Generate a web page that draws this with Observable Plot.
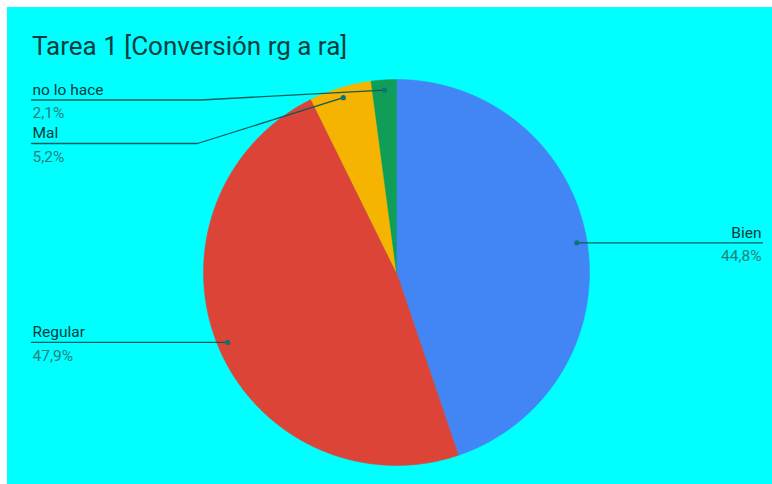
<!DOCTYPE html>
<html>
<head>
<meta charset="utf-8">
<script src="https://cdn.jsdelivr.net/npm/d3@7"></script>
<script src="https://cdn.jsdelivr.net/npm/@observablehq/plot@0.6"></script>
<style>
  html, body { margin: 0; padding: 0; background: #ffffff; }
  #frame { position: absolute; left: 7px; top: 7px; width: 765px; height: 477px; background: #00ffff; overflow: hidden; }
  #title { position: absolute; left: 25px; top: 26px; margin: 0; font: 400 26px/26px Roboto, sans-serif; color: #0b3d3d; white-space: nowrap; }
  #chart { position: absolute; left: 0; top: 0; }
</style>
</head>
<body>
<div id="frame">
  <div id="chart"></div>
  <div id="title">Tarea 1 [Conversión rg a ra]</div>
</div>
<script>
// ---- data ----
const categories = ["Bien", "Regular", "Mal", "no lo hace"];
const values = [44.8, 47.9, 5.2, 2.1];
const percentLabels = ["44,8%", "47,9%", "5,2%", "2,1%"];
const colors = ["#4285f4", "#db4437", "#f4b400", "#0f9d58"];

// ---- layout (unit circle coordinates; pie radius = 1) ----
const toUX = px => (px - 396) / 193;
const toUY = py => (272 - py) / 193;
const layout = {
  "Bien":       { endX: toUX(762), lineY: null,        elbowX: null,      anchor: "end" },
  "Regular":    { endX: toUX(31),  lineY: null,        elbowX: null,      anchor: "start" },
  "Mal":        { endX: toUX(31),  lineY: toUY(143),   elbowX: toUX(197), anchor: "start" },
  "no lo hace": { endX: toUX(31),  lineY: toUY(99.5),  elbowX: toUX(200), anchor: "start" }
};
const textStartX = toUX(32);
const textEndX = toUX(761);
const dotR = 0.947;

const arcs = d3.pie().sort(null).value(d => d.value)(categories.map((c, i) => ({ category: c, value: values[i], pct: percentLabels[i], color: colors[i] })));

// slice polygons
const slicePts = [];
for (const a of arcs) {
  const cat = a.data.category;
  slicePts.push({ cat, x: 0, y: 0 });
  const n = Math.max(2, Math.ceil((a.endAngle - a.startAngle) / 0.005));
  for (let k = 0; k <= n; k++) {
    const t = a.startAngle + (a.endAngle - a.startAngle) * k / n;
    slicePts.push({ cat, x: Math.sin(t), y: Math.cos(t) });
  }
  slicePts.push({ cat, x: 0, y: 0 });
}

// leader lines & dots & labels
const leaderPts = [], dots = [], names = [], pcts = [];
for (const a of arcs) {
  const cat = a.data.category;
  const m = (a.startAngle + a.endAngle) / 2;
  const dx = dotR * Math.sin(m), dy = dotR * Math.cos(m);
  const L = layout[cat];
  const ly = L.lineY == null ? dy : L.lineY;
  dots.push({ cat, x: dx, y: dy });
  leaderPts.push({ cat, x: dx, y: dy });
  if (L.elbowX != null) leaderPts.push({ cat, x: L.elbowX, y: ly });
  leaderPts.push({ cat, x: L.endX, y: ly });
  const tx = L.anchor === "end" ? textEndX : textStartX;
  names.push({ cat, x: tx, y: ly, anchor: L.anchor, text: cat });
  pcts.push({ cat, x: tx, y: ly, anchor: L.anchor, text: a.data.pct });
}

const fs = 15.5;
const chart = Plot.plot({
  width: 765,
  height: 477,
  margin: 0,
  style: { background: "transparent", fontFamily: "Roboto, sans-serif" },
  x: { type: "linear", domain: [-1, 1], range: [196, 582], axis: null },
  y: { type: "linear", domain: [-1, 1], range: [458, 72], axis: null },
  color: { type: "ordinal", domain: categories, range: colors },
  marks: [
    Plot.line(slicePts, { x: "x", y: "y", z: "cat", fill: "cat", stroke: "cat", strokeWidth: 0.5, curve: "linear" }),
    Plot.line(leaderPts, { x: "x", y: "y", z: "cat", stroke: "#0a5c5c", strokeWidth: 1.3 }),
    Plot.dot(dots, { x: "x", y: "y", r: 2.6, fill: "#117272", stroke: "none" }),
    Plot.text(names.filter(d => d.anchor === "start"), { x: "x", y: "y", text: "text", textAnchor: "start", dy: -10, fontSize: fs, fill: "#083c3c" }),
    Plot.text(names.filter(d => d.anchor === "end"), { x: "x", y: "y", text: "text", textAnchor: "end", dy: -10, fontSize: fs, fill: "#083c3c" }),
    Plot.text(pcts.filter(d => d.anchor === "start"), { x: "x", y: "y", text: "text", textAnchor: "start", dy: 13.5, fontSize: fs, fill: "#267e7e" }),
    Plot.text(pcts.filter(d => d.anchor === "end"), { x: "x", y: "y", text: "text", textAnchor: "end", dy: 13.5, fontSize: fs, fill: "#267e7e" })
  ]
});
document.getElementById("chart").appendChild(chart);
</script>
</body>
</html>
